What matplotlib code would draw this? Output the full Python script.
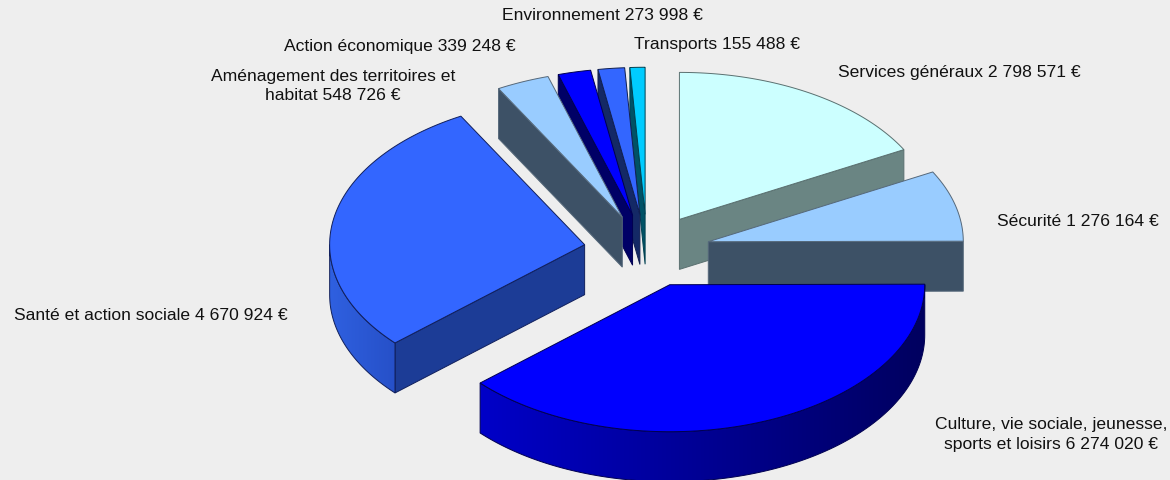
import numpy as np
import matplotlib
matplotlib.use('Agg')
import matplotlib.pyplot as plt
from matplotlib.colors import LinearSegmentedColormap
from matplotlib.patches import Polygon

# budget values, clockwise from 12 o'clock
names = ['Services généraux', 'Sécurité', 'Culture, vie sociale, jeunesse,\nsports et loisirs',
         'Santé et action sociale', 'Aménagement des territoires et\nhabitat', 'Action économique',
         'Environnement', 'Transports']
amounts = ['2 798 571 €', '1 276 164 €', '6 274 020 €', '4 670 924 €',
           '548 726 €', '339 248 €', '273 998 €', '155 488 €']
values = [2798571, 1276164, 6274020, 4670924, 548726, 339248, 273998, 155488]

top_colors = ['#CCFFFF', '#99CCFF', '#0000FF', '#3366FF', '#99CCFF', '#0000FF', '#3366FF', '#00CCFF']
side_colors = ['#6A8583', '#3D5166', '#000066', '#1C3C96', '#3D5166', '#000066', '#142966', '#005266']
edge_colors = ['#5A7070', '#55687A', '#000050', '#101F5C', '#55687A', '#000050', '#101F50', '#004050']
wall_left = ['#2F60E0', '#2F60E0', '#0000C8', '#2F60E0', '#3D5166', '#000066', '#142966', '#005266']
wall_right = ['#00005F', '#00005F', '#00005F', '#2650C8', '#3D5166', '#000066', '#142966', '#005266']

label_x = [959, 1078, 1051, 151, 333, 400, 602, 717]
label_y = [73, 222, 434.5, 316, 86, 47, 15, 44]

# pie geometry in pixels
CX, CY = 647, 251.7
A, B = 255, 147
DEPTH = 50
EXPLODE = 0.248

plt.rcParams['font.family'] = ['Liberation Sans', 'DejaVu Sans']
fig = plt.figure(figsize=(11.7, 4.81), dpi=100, facecolor='#EEEEEE')
ax = fig.add_axes([0, 0, 1, 1])
ax.set_xlim(0, 1170)
ax.set_ylim(481, 0)
ax.axis('off')

angles = np.cumsum([0] + values) / sum(values) * 2 * np.pi


def arc_points(x0, y0, t0, t1, n=80):
    t = np.linspace(t0, t1, n)
    return x0 + A * np.sin(t), y0 - B * np.cos(t)


def draw_wedge(i):
    t0, t1 = angles[i], angles[i + 1]
    mid = (t0 + t1) / 2
    x0 = CX + EXPLODE * A * np.sin(mid)
    y0 = CY - EXPLODE * B * np.cos(mid)
    z = 10 + draw_order.index(i) * 5

    # cut faces, only the one turned to the viewer
    for t, visible in ((t0, np.sin(t0) < -1e-6), (t1, np.sin(t1) > 1e-6)):
        if visible:
            xe, ye = x0 + A * np.sin(t), y0 - B * np.cos(t)
            ax.fill([x0, xe, xe, x0], [y0, ye, ye + DEPTH, y0 + DEPTH],
                    facecolor=side_colors[i], edgecolor=edge_colors[i], lw=0.7, zorder=z)

    # outer wall for the front half of the ellipse, with a left to right gradient
    w0, w1 = max(t0, np.pi / 2), min(t1, 3 * np.pi / 2)
    if w1 > w0:
        xa, ya = arc_points(x0, y0, w0, w1, 120)
        outline = np.column_stack([np.r_[xa, xa[::-1]], np.r_[ya + DEPTH, ya[::-1]]])
        wall = Polygon(outline, closed=True, facecolor='none', edgecolor=edge_colors[i], lw=0.7, zorder=z + 2)
        ax.add_patch(wall)
        cmap = LinearSegmentedColormap.from_list('wall', [wall_left[i], wall_right[i]])
        img = ax.imshow(np.linspace(0, 1, 256).reshape(1, -1), cmap=cmap, aspect='auto', zorder=z + 1,
                        extent=(xa.min(), xa.max(), ya.max() + DEPTH, ya.min()))
        img.set_clip_path(wall)

    xa, ya = arc_points(x0, y0, t0, t1)
    ax.fill(np.r_[x0, xa], np.r_[y0, ya], facecolor=top_colors[i],
            edgecolor=edge_colors[i], lw=0.7, joinstyle='miter', zorder=z + 3)


# back wedges first, the big front ones last
draw_order = [0, 1, 7, 6, 5, 4, 3, 2]
for i in draw_order:
    draw_wedge(i)

# imshow resets the limits
ax.set_xlim(0, 1170)
ax.set_ylim(481, 0)

for i in range(len(values)):
    ax.text(label_x[i], label_y[i], names[i] + ' ' + amounts[i], ha='center', va='center',
            fontsize=12.6, color='#111111', linespacing=1.38, zorder=100)

fig.savefig('out.png', dpi=100, facecolor=fig.get_facecolor())
